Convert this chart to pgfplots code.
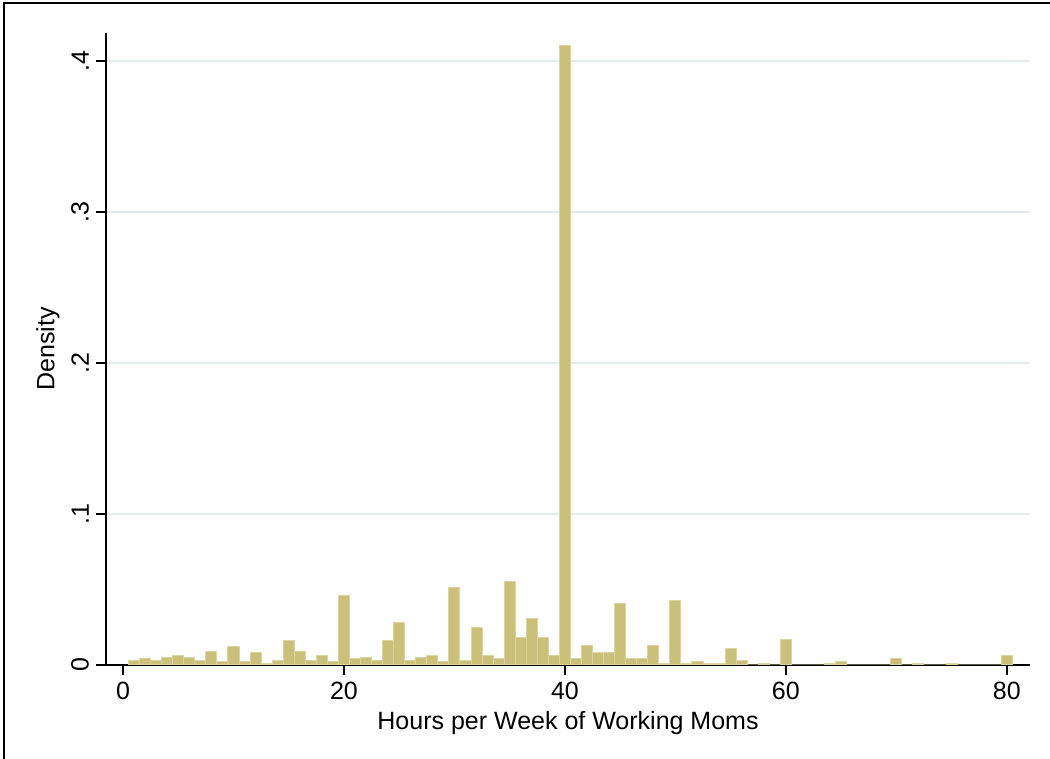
\documentclass[border=0pt]{standalone}
\usepackage{pgfplots}
\pgfplotsset{compat=1.18}
\usepackage{fontspec}
\setmainfont{Liberation Sans}
\definecolor{barc}{RGB}{202,192,122}
\definecolor{bare}{RGB}{220,212,160}
\definecolor{gridc}{RGB}{226,236,238}
\begin{document}
\begin{tikzpicture}
\useasboundingbox (-53pt,-47pt) rectangle (472pt,332.5pt);
\draw[black,line width=1pt] (-51pt,-47pt) -- (-51pt,331pt) -- (472pt,331pt);
\begin{axis}[
  at={(0,0)}, anchor=south west,
  scale only axis, width=462pt, height=316pt,
  xmin=-1.54, xmax=82.1, ymin=0, ymax=0.4185,
  axis x line*=bottom, axis y line*=left,
  axis line style={line width=0.8pt},
  xtick={0,20,40,60,80}, ytick={0,0.1,0.2,0.3,0.4},
  yticklabels={0,.1,.2,.3,.4},
  yticklabel style={rotate=90, anchor=south},
  tick align=outside, major tick length=5pt,
  tick style={black, line width=0.8pt},
  ymajorgrids, grid style={gridc, line width=0.8pt},
  /pgf/number format/assume math mode=true,
  ticklabel style={font=\fontsize{12.5}{14}\selectfont},
  label style={font=\fontsize{12.5}{14}\selectfont},
  xlabel={Hours per Week of Working Moms}, ylabel={Density},
  xlabel style={yshift=1pt}, ylabel style={yshift=-1pt},
]
\addplot[ybar interval, fill=barc, draw=bare, line width=0.5pt] coordinates {
(0.5,0.003)(1.5,0.004)(2.5,0.003)(3.5,0.005)(4.5,0.006)(5.5,0.005)(6.5,0.003)(7.5,0.009)(8.5,0.002)(9.5,0.012)
(10.5,0.002)(11.5,0.008)(12.5,0.001)(13.5,0.003)(14.5,0.016)(15.5,0.009)(16.5,0.003)(17.5,0.006)(18.5,0.002)(19.5,0.046)
(20.5,0.004)(21.5,0.005)(22.5,0.003)(23.5,0.016)(24.5,0.028)(25.5,0.003)(26.5,0.005)(27.5,0.006)(28.5,0.002)(29.5,0.051)
(30.5,0.003)(31.5,0.025)(32.5,0.006)(33.5,0.004)(34.5,0.055)(35.5,0.018)(36.5,0.031)(37.5,0.018)(38.5,0.006)(39.5,0.41)
(40.5,0.004)(41.5,0.013)(42.5,0.008)(43.5,0.008)(44.5,0.041)(45.5,0.004)(46.5,0.004)(47.5,0.013)(48.5,0.001)(49.5,0.043)
(50.5,0.001)(51.5,0.002)(52.5,0.001)(53.5,0.001)(54.5,0.011)(55.5,0.003)(56.5,0)(57.5,0.001)(58.5,0)(59.5,0.017)
(60.5,0)(61.5,0)(62.5,0)(63.5,0.001)(64.5,0.002)(65.5,0)(66.5,0)(67.5,0)(68.5,0)(69.5,0.004)
(70.5,0)(71.5,0.001)(72.5,0)(73.5,0)(74.5,0.001)(75.5,0)(76.5,0)(77.5,0)(78.5,0)(79.5,0.006)(80.5,0)
};
\end{axis}
\end{tikzpicture}
\end{document}
